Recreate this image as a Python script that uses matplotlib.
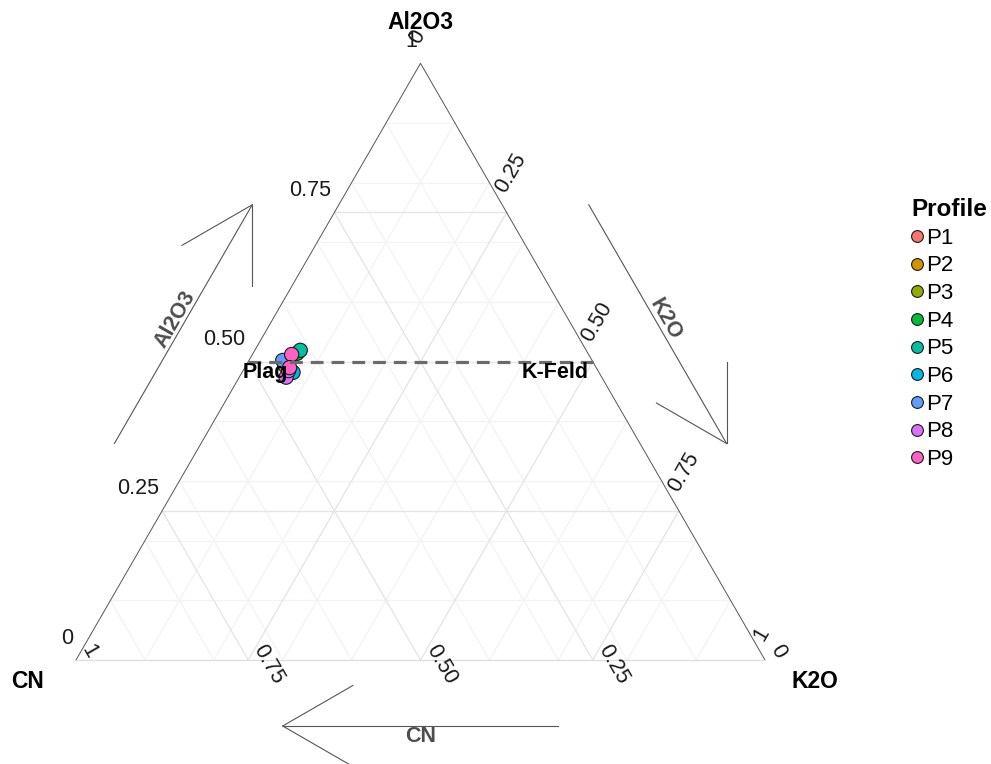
import numpy as np
import matplotlib.pyplot as plt
from matplotlib.lines import Line2D

plt.rcParams['font.family'] = ['Liberation Sans', 'DejaVu Sans']

# sample compositions (fractions of Al2O3 + CN + K2O)
profile = ["P1", "P2", "P3", "P4", "P5", "P6", "P7", "P8", "P8", "P9", "P9"]
al2o3 = [0.502, 0.499, 0.494, 0.514, 0.519, 0.482, 0.502, 0.474, 0.485, 0.512, 0.490]
cn    = [0.444, 0.443, 0.450, 0.422, 0.415, 0.444, 0.449, 0.458, 0.449, 0.431, 0.445]
k2o   = [0.054, 0.058, 0.056, 0.064, 0.066, 0.074, 0.049, 0.068, 0.066, 0.057, 0.065]

profiles = ["P1", "P2", "P3", "P4", "P5", "P6", "P7", "P8", "P9"]
colors = ["#F8766D", "#D39200", "#93AA00", "#00BA38", "#00C19F",
          "#00B9E3", "#619CFF", "#DB72FB", "#FF61C3"]

# feldspar join end members
join_names = ["Plag", "K-Feld"]
join_al2o3 = [0.5, 0.5]
join_cn = [0.5, 0.0]
join_k2o = [0.0, 0.5]

ticks = [0, 0.25, 0.5, 0.75, 1]
tick_labels = ["0", "0.25", "0.50", "0.75", "1"]
grid_major = [0.25, 0.5, 0.75]
grid_minor = [0.1, 0.2, 0.3, 0.4, 0.6, 0.7, 0.8, 0.9]

W, H = 991, 764
PX = 689.0          # pixels per triangle side
X0, Y0 = 76, 660    # pixel position of the CN corner
R3 = np.sqrt(3) / 2


def tern(a, c, k):
    a, c, k = np.asarray(a, float), np.asarray(c, float), np.asarray(k, float)
    s = a + c + k
    return k / s + a / s / 2, a / s * R3


def px(dx, dy):
    # screen-pixel offset (y down) -> data units
    return dx / PX, -dy / PX


fig = plt.figure(figsize=(W / 100, H / 100), dpi=100)
ax = fig.add_axes([0, 0, 1, 1])
ax.set_xlim(-X0 / PX, (W - X0) / PX)
ax.set_ylim(-(H - Y0) / PX, Y0 / PX)
ax.axis("off")

# grid
for vals, col in [(grid_minor, "#f3f3f3"), (grid_major, "#e4e4e4")]:
    for v in vals:
        for p, q in [((v, 1 - v, 0), (v, 0, 1 - v)),
                     ((1 - v, v, 0), (0, v, 1 - v)),
                     ((1 - v, 0, v), (0, 1 - v, v))]:
            x, y = tern([p[0], q[0]], [p[1], q[1]], [p[2], q[2]])
            ax.plot(x, y, color=col, lw=0.9, zorder=1)

# triangle border
ax.plot([0, 0.5, 1], [0, R3, 0], color="#555555", lw=0.7, zorder=2)
ax.plot([0, 1], [0, 0], color="#dddddd", lw=0.9, zorder=2)

# tick labels
tfs = 15.5
for v, lab in zip(ticks, tick_labels):
    x, y = tern(v, 1 - v, 0)
    dx, dy = px(-3, -22)
    ax.text(x + dx, y + dy, lab, ha="right", va="center", fontsize=tfs, color="#1a1a1a")
    x, y = tern(1 - v, 0, v)
    dx, dy = px(-6, -21)
    ax.text(x + dx, y + dy, lab, ha="left", va="center", rotation=60,
            rotation_mode="anchor", fontsize=tfs, color="#1a1a1a")
    x, y = tern(0, v, 1 - v)
    dx, dy = px(10, -14)
    ax.text(x + dx, y + dy, lab, ha="left", va="center", rotation=-60,
            rotation_mode="anchor", fontsize=tfs, color="#1a1a1a")

# vertex titles
xt, yt = tern(1, 0, 0)
ax.text(xt, yt + 41 / PX, "Al2O3", fontsize=16.5, fontweight="bold", ha="center", va="center")
xt, yt = tern(0, 1, 0)
ax.text(xt - 48 / PX, yt - 22 / PX, "CN", fontsize=16.5, fontweight="bold", ha="center", va="center")
xt, yt = tern(0, 0, 1)
ax.text(xt + 50 / PX, yt - 22 / PX, "K2O", fontsize=16.5, fontweight="bold", ha="center", va="center")

# direction arrows beside each edge
acol = "#555555"
barb = 81 / PX
centre = np.array([0.5, R3 / 3])
for p0, p1, off, loff, name, rot in [((0, 0), (0.5, R3), 75, 84, "Al2O3", 60),
                                     ((0.5, R3), (1, 0), 75, 84, "K2O", -60),
                                     ((1, 0), (0, 0), 66, 77, "CN", 0)]:
    p0, p1 = np.array(p0), np.array(p1)
    u = (p1 - p0) / np.linalg.norm(p1 - p0)
    n = np.array([u[1], -u[0]])
    if np.dot(n, centre - p0) > 0:
        n = -n
    a0 = p0 + 0.3 * (p1 - p0) + n * off / PX
    a1 = p0 + 0.7 * (p1 - p0) + n * off / PX
    ax.plot([a0[0], a1[0]], [a0[1], a1[1]], color=acol, lw=0.8)
    for ang in (np.pi / 6, -np.pi / 6):
        c, s = np.cos(ang), np.sin(ang)
        b = np.array([-c * u[0] + s * u[1], -s * u[0] - c * u[1]])
        ax.plot([a1[0], a1[0] + b[0] * barb], [a1[1], a1[1] + b[1] * barb],
                color=acol, lw=0.8)
    lp = p0 + 0.5 * (p1 - p0) + n * loff / PX
    ax.text(lp[0], lp[1], name, rotation=rot, ha="center", va="center",
            fontsize=15.5, fontweight="bold", color="#4d4d4d")

# samples
cmap = dict(zip(profiles, colors))
xs, ys = tern(al2o3, cn, k2o)
ax.scatter(xs, ys, s=105, c=[cmap[p] for p in profile], edgecolors="#1a1a1a",
           linewidths=0.8, zorder=3)

# feldspar join
jx, jy = tern(join_al2o3, join_cn, join_k2o)
ax.plot(jx, jy, color="#6b6b6b", lw=2.3, ls=(0, (4, 2.5)), zorder=4)
ax.text(jx[0] - 6 / PX, jy[0] - 11 / PX, join_names[0], ha="left", va="center",
        fontsize=15.5, fontweight="bold", zorder=5)
ax.text(jx[1] - 4 / PX, jy[1] - 11 / PX, join_names[1], ha="right", va="center",
        fontsize=15.5, fontweight="bold", zorder=5)

handles = [Line2D([], [], ls="", marker="o", markersize=8.5, markerfacecolor=c,
                  markeredgecolor="#1a1a1a", markeredgewidth=0.8) for c in colors]
leg = fig.legend(handles, profiles, loc="upper left",
                 bbox_to_anchor=(911 / W, 1 - 198 / H), frameon=False,
                 title="Profile", alignment="left", fontsize=16,
                 title_fontproperties={"weight": "bold", "size": 17.5},
                 borderpad=0, borderaxespad=0, handlelength=0.55,
                 handletextpad=0.15, labelspacing=0.3)

fig.savefig("out.png", dpi=100)
